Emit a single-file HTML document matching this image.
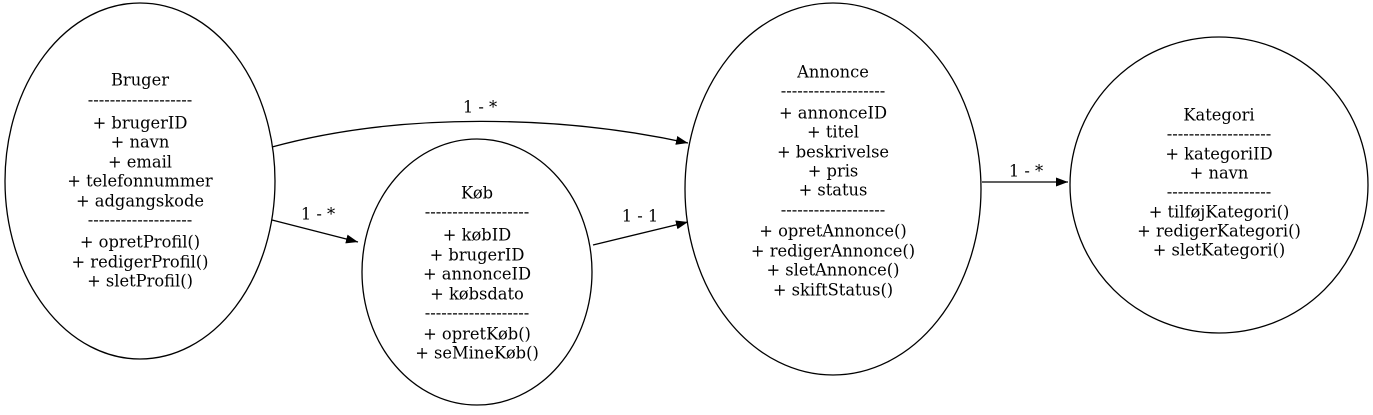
<!DOCTYPE html>
<html><head><meta charset="utf-8"><style>html,body{margin:0;padding:0;background:#fff}svg{display:block}text{font-family:"DejaVu Serif","Liberation Serif",serif;font-size:16.3px;fill:#000}</style></head><body>
<svg width="1373" height="415" viewBox="0 0 1373 415" xmlns="http://www.w3.org/2000/svg">
<defs><marker id="a" markerWidth="12" markerHeight="9" refX="12" refY="4.5" orient="auto" markerUnits="userSpaceOnUse"><path d="M0,0 L12,4.5 L0,9 z" fill="#000"/></marker></defs>
<g fill="none" stroke="#000" stroke-width="1.3">
<ellipse cx="140" cy="181" rx="135" ry="178"/>
<ellipse cx="477" cy="272" rx="115" ry="133"/>
<ellipse cx="833" cy="189" rx="148" ry="186"/>
<ellipse cx="1219" cy="185" rx="149" ry="148"/>
<path d="M272,147 C400,112 560,115 688,143" marker-end="url(#a)"/>
<path d="M272,220 L358,242" marker-end="url(#a)"/>
<path d="M593,245 L688,222" marker-end="url(#a)"/>
<path d="M982,182 L1068,182" marker-end="url(#a)"/>
</g>
<g text-anchor="middle" dominant-baseline="middle">
<text x="480" y="108">1 - *</text>
<text x="318" y="215">1 - *</text>
<text x="640" y="217">1 - 1</text>
<text x="1026" y="172">1 - *</text>
<text x="140" y="81">Bruger</text>
<text x="140" y="101">-------------------</text>
<text x="140" y="124">+ brugerID</text>
<text x="140" y="143">+ navn</text>
<text x="140" y="163">+ email</text>
<text x="140" y="182">+ telefonnummer</text>
<text x="140" y="202">+ adgangskode</text>
<text x="140" y="221">-------------------</text>
<text x="140" y="243">+ opretProfil()</text>
<text x="140" y="263">+ redigerProfil()</text>
<text x="140" y="282">+ sletProfil()</text>
<text x="477" y="194">Køb</text>
<text x="477" y="213">-------------------</text>
<text x="477" y="236">+ købID</text>
<text x="477" y="256">+ brugerID</text>
<text x="477" y="275">+ annonceID</text>
<text x="477" y="295">+ købsdato</text>
<text x="477" y="314">-------------------</text>
<text x="477" y="335">+ opretKøb()</text>
<text x="477" y="354">+ seMineKøb()</text>
<text x="833" y="73">Annonce</text>
<text x="833" y="92">-------------------</text>
<text x="833" y="114">+ annonceID</text>
<text x="833" y="133">+ titel</text>
<text x="833" y="153">+ beskrivelse</text>
<text x="833" y="172">+ pris</text>
<text x="833" y="191">+ status</text>
<text x="833" y="211">-------------------</text>
<text x="833" y="232">+ opretAnnonce()</text>
<text x="833" y="252">+ redigerAnnonce()</text>
<text x="833" y="271">+ sletAnnonce()</text>
<text x="833" y="291">+ skiftStatus()</text>
<text x="1219" y="116">Kategori</text>
<text x="1219" y="135">-------------------</text>
<text x="1219" y="155">+ kategoriID</text>
<text x="1219" y="174">+ navn</text>
<text x="1219" y="193">-------------------</text>
<text x="1219" y="213">+ tilføjKategori()</text>
<text x="1219" y="232">+ redigerKategori()</text>
<text x="1219" y="251">+ sletKategori()</text>
</g>
</svg>
</body></html>
